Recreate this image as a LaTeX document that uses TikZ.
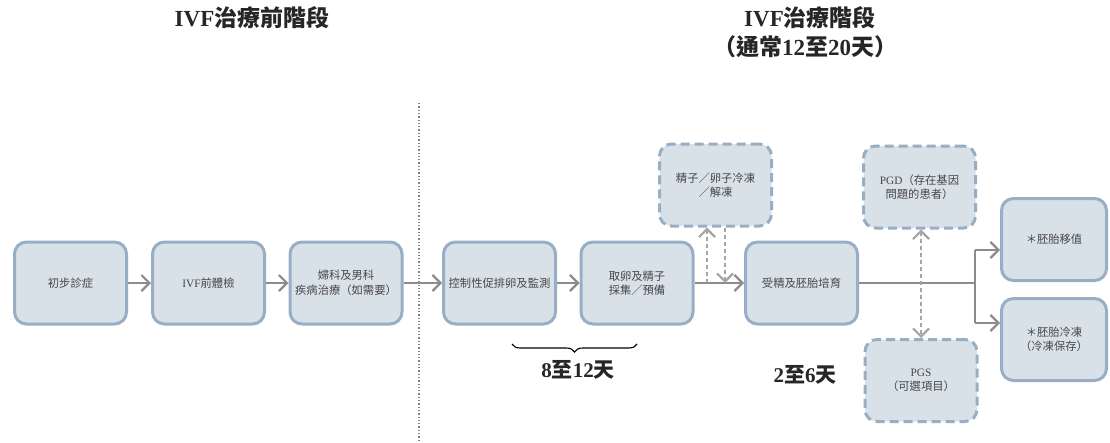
\documentclass[tikz,border=0pt]{standalone}
\usepackage{fontspec}
\setmainfont{Noto Sans CJK TC}
\newfontfamily\lf{Liberation Serif}
\usetikzlibrary{arrows.meta,decorations.pathreplacing}
\definecolor{boxfill}{RGB}{217,225,232}
\definecolor{boxline}{RGB}{152,174,196}
\definecolor{arrgray}{RGB}{140,140,140}
\definecolor{dashgray}{RGB}{165,165,165}
\definecolor{txtgray}{RGB}{70,70,70}
\definecolor{dotgray}{RGB}{130,130,130}
\newcommand\latn[1]{{\lf #1}}
\begin{document}
\begin{tikzpicture}[x=1pt,y=-1pt,
  >={Straight Barb[length=8pt,width=16pt,line width=2.2pt]},
  box/.style={draw=boxline, fill=boxfill, line width=3pt, rounded corners=12pt,
    minimum width=112pt, minimum height=82pt, align=center, text=txtgray,
    font=\fontsize{11.3}{14.5}\selectfont, inner sep=2pt},
  dbox/.style={box, dash pattern=on 9pt off 5pt},
  tbox/.style={box, minimum width=105pt},
  arr/.style={draw=arrgray, line width=2.2pt, ->},
  plainline/.style={draw=arrgray, line width=2.2pt},
  darr/.style={draw=dashgray, line width=2.2pt, dash pattern=on 4pt off 3pt},
  title/.style={font=\fontsize{23}{27}\selectfont\bfseries, text=black!85, align=center},
  days/.style={font=\fontsize{21}{24}\selectfont\bfseries, text=black!85}
]
\useasboundingbox (0,0) rectangle (1110,442);

% titles
\node[title] (t1) at (252,18) {\latn{IVF}治療前階段};
\node[title] (t2) at (810,18) {\latn{IVF}治療階段};
\node[title] (t3) at (805,47) {（通常\latn{12}至\latn{20}天）};

% divider
\coordinate (dtop) at (419,103);
\coordinate (dbot) at (419,440);
\draw[dotgray, line width=1.3pt, dash pattern=on 1.3pt off 2pt] (dtop) -- (dbot);

% boxes
\node[box] (b1) at (70.5,283) {初步診症};
\node[box] (b2) at (208.5,283) {\latn{IVF}前體檢};
\node[box] (b3) at (346,283) {婦科及男科\\疾病治療（如需要）};
\node[box] (b4) at (499.5,283) {控制性促排卵及監測};
\node[box] (b5) at (637,283) {取卵及精子\\採集／預備};
\node[dbox] (f) at (715.5,185) {精子／卵子冷凍\\／解凍};
\node[box] (b6) at (801.5,283) {受精及胚胎培育};
\node[dbox] (pgd) at (919.5,187) {\latn{PGD}（存在基因\\問題的患者）};
\node[dbox] (pgs) at (921,380.5) {\latn{PGS}\\（可選項目）};
\node[tbox] (e1) at (1054,239.5) {＊胚胎移值};
\node[tbox] (e2) at (1054,339.5) {＊胚胎冷凍\\（冷凍保存）};

% main arrows
\draw[arr] (b1.east) -- (b2.west);
\draw[arr] (b2.east) -- (b3.west);
\draw[arr] (b3.east) -- (b4.west);
\draw[arr] (b4.east) -- (b5.west);
\draw[arr] (b5.east) -- (b6.west);

% freeze dashed arrows
\coordinate (fu) at (707,283);
\coordinate (fd) at (725,283);
\draw[darr, ->] (fu) -- (fu |- f.south);
\draw[darr, ->] (fd |- f.south) -- (fd);

% branch to transfer / freeze
\coordinate (j) at (975,283);
\coordinate (j1) at (975,250);
\coordinate (j2) at (975,323);
\draw[plainline] (b6.east) -- (j);
\draw[plainline] (j1) -- (j2);
\draw[arr] (j1) -- (j1 -| e1.west);
\draw[arr] (j2) -- (j2 -| e2.west);

% PGD <-> PGS
\coordinate (pg) at (921,283);
\draw[darr, <->] (pg |- pgd.south) -- (pg |- pgs.north);

% brace and day labels
\coordinate (br1) at (512,344);
\coordinate (br2) at (637,344);
\draw[black, line width=1.1pt, decorate, decoration={brace, mirror, amplitude=8pt}] (br1) -- (br2);
\node[days] (d1) at (578,370) {\latn{8}至\latn{12}天};
\node[days] (d2) at (805,375) {\latn{2}至\latn{6}天};
\end{tikzpicture}
\end{document}
